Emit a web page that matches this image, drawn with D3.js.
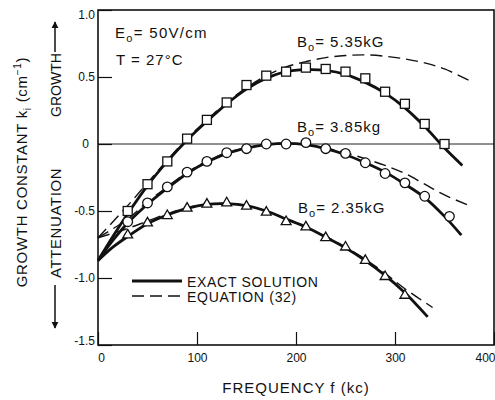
<!DOCTYPE html>
<html lang="en">
    <head>
        <meta charset="utf-8">
        <title>Growth constant vs frequency</title>
        <script type="text/javascript" src="https://cdn.jsdelivr.net/npm/d3@7"></script>
        <style type="text/css">
            body {
                margin: 0;
                background: white;
            }
            text {
                font-family: "Liberation Sans", Arial, Helvetica, sans-serif;
                fill: #111;
            }
            .axis path {
                display: none;
            }
            .axis line {
                stroke: #111;
                stroke-width: 1.2;
            }
            .axis text {
                font-size: 12px;
            }
        </style>
    </head>
    <body>
        <script type="text/javascript">
            //Tick values
            var xTicks = [0, 100, 200, 300, 400];
            var yTicks = [1.0, 0.5, 0, -0.5, -1.0, -1.5];
            var yTickLabels = ["1.0", "0.5", "0", "-0.5", "-1.0", "-1.5"];

            //Measured points (open markers)
            var fSquares = [30, 50, 70, 90, 110, 130, 150, 170, 190, 210, 230, 250, 270, 290, 310, 330, 350];
            var kSquares = [-0.50, -0.30, -0.13, 0.04, 0.18, 0.31, 0.44, 0.51, 0.54, 0.57, 0.56, 0.54, 0.49, 0.39, 0.30, 0.15, 0.0];

            var fCircles = [30, 50, 70, 90, 110, 130, 150, 170, 190, 210, 230, 250, 270, 290, 310, 330, 355];
            var kCircles = [-0.58, -0.44, -0.32, -0.21, -0.13, -0.065, -0.035, 0.0, 0.0, 0.01, -0.035, -0.07, -0.14, -0.22, -0.29, -0.39, -0.54];

            var fTriangles = [30, 50, 70, 90, 110, 130, 150, 170, 190, 210, 230, 250, 270, 290, 310];
            var kTriangles = [-0.68, -0.59, -0.535, -0.48, -0.45, -0.44, -0.465, -0.51, -0.58, -0.62, -0.70, -0.77, -0.87, -0.99, -1.13];

            //Exact solution (solid curves)
            var fExact535 = [0, 15, 30, 50, 70, 90, 110, 130, 150, 170, 190, 210, 230, 250, 270, 290, 310, 330, 350, 368];
            var kExact535 = [-0.87, -0.69, -0.52, -0.31, -0.13, 0.03, 0.17, 0.30, 0.41, 0.49, 0.54, 0.555, 0.55, 0.52, 0.46, 0.38, 0.27, 0.13, -0.03, -0.16];

            var fExact385 = [0, 15, 30, 50, 70, 90, 110, 130, 150, 170, 190, 210, 230, 250, 270, 290, 310, 330, 350, 367];
            var kExact385 = [-0.87, -0.72, -0.59, -0.45, -0.33, -0.22, -0.135, -0.07, -0.03, -0.005, 0.005, -0.005, -0.035, -0.08, -0.14, -0.21, -0.30, -0.40, -0.54, -0.68];

            var fExact235 = [0, 15, 30, 50, 70, 90, 110, 130, 150, 170, 190, 210, 230, 250, 270, 290, 310, 333];
            var kExact235 = [-0.87, -0.77, -0.69, -0.595, -0.53, -0.48, -0.45, -0.445, -0.46, -0.50, -0.56, -0.62, -0.695, -0.775, -0.87, -0.98, -1.11, -1.29];

            //Equation (32) (dashed curves)
            var fEq535 = [0, 30, 50, 70, 90, 110, 130, 150, 170, 190, 210, 230, 250, 270, 290, 310, 330, 350, 376];
            var kEq535 = [-0.70, -0.46, -0.29, -0.12, 0.04, 0.18, 0.31, 0.42, 0.51, 0.575, 0.615, 0.645, 0.66, 0.665, 0.655, 0.635, 0.605, 0.56, 0.47];

            var fEq385 = [0, 30, 50, 70, 90, 110, 130, 150, 170, 190, 210, 230, 250, 270, 290, 310, 330, 350, 375];
            var kEq385 = [-0.70, -0.56, -0.43, -0.32, -0.21, -0.13, -0.065, -0.03, -0.005, 0.005, -0.005, -0.03, -0.065, -0.11, -0.16, -0.22, -0.30, -0.38, -0.46];

            var fEq235 = [0, 30, 50, 70, 90, 110, 130, 150, 170, 190, 210, 230, 250, 270, 290, 310, 338];
            var kEq235 = [-0.70, -0.63, -0.575, -0.52, -0.475, -0.45, -0.445, -0.46, -0.50, -0.56, -0.62, -0.69, -0.77, -0.86, -0.965, -1.08, -1.22];

            //Width and height
            var w = 495;
            var h = 400;
            var plotL = 98, plotR = 494, plotT = 10, plotB = 345;

            function zip(fs, ks) {
                return fs.map(function(f, i) { return [f, ks[i]]; });
            }

            //Scales
            var xScale = d3.scaleLinear().domain([0, 400]).range([plotL, plotR]);
            var yScale = d3.scaleLinear().domain([-1.5, 1.0]).range([plotB, plotT]);

            var svg = d3.select("body")
                        .append("svg")
                        .attr("width", w)
                        .attr("height", h);

            //Arrow heads
            var defs = svg.append("defs");
            defs.append("marker")
                .attr("id", "arrow")
                .attr("viewBox", "0 0 10 10")
                .attr("refX", 9)
                .attr("refY", 5)
                .attr("markerWidth", 7)
                .attr("markerHeight", 9)
                .attr("markerUnits", "userSpaceOnUse")
                .attr("orient", "auto")
                .append("path")
                .attr("d", "M0,0 L10,5 L0,10 Z")
                .attr("fill", "#111");

            //Zero line
            svg.append("line")
               .attr("x1", plotL).attr("x2", plotR)
               .attr("y1", yScale(0)).attr("y2", yScale(0))
               .attr("stroke", "#222")
               .attr("stroke-width", 1);

            //Axes with inward ticks
            var xAxis = d3.axisBottom(xScale)
                          .tickValues(xTicks)
                          .tickSize(-13)
                          .tickPadding(8)
                          .tickFormat(d3.format("d"));
            var gx = svg.append("g")
               .attr("class", "axis")
               .attr("transform", "translate(0," + plotB + ")")
               .call(xAxis);
            gx.selectAll("text")
              .filter(function(d) { return d === 400; })
              .attr("text-anchor", "end")
              .attr("x", plotR - xScale(400) + 1);
            gx.selectAll("text")
              .filter(function(d) { return d === 0; })
              .attr("x", 3);

            var yAxis = d3.axisLeft(yScale)
                          .tickValues(yTicks)
                          .tickSize(-14)
                          .tickPadding(3)
                          .tickFormat(function(d, i) { return yTickLabels[i]; });
            var gy = svg.append("g")
               .attr("class", "axis")
               .attr("transform", "translate(" + plotL + ",0)")
               .call(yAxis);
            gy.selectAll("text")
              .filter(function(d) { return d === 1.0; })
              .attr("dy", "0.7em");
            gy.selectAll("text")
              .filter(function(d) { return d === -1.5; })
              .attr("dy", "-0.05em");
            gy.selectAll("text")
              .filter(function(d) { return d === 0; })
              .attr("x", -9);

            //Frame
            svg.append("rect")
               .attr("x", plotL).attr("y", plotT)
               .attr("width", plotR - plotL).attr("height", plotB - plotT)
               .attr("fill", "none")
               .attr("stroke", "#111")
               .attr("stroke-width", 1.6);

            //Curves
            var line = d3.line()
                         .x(function(d) { return xScale(d[0]); })
                         .y(function(d) { return yScale(d[1]); })
                         .curve(d3.curveCatmullRom);

            var dashed = [zip(fEq535, kEq535), zip(fEq385, kEq385), zip(fEq235, kEq235)];
            var solid = [zip(fExact535, kExact535), zip(fExact385, kExact385), zip(fExact235, kExact235)];

            svg.selectAll("path.eq")
               .data(dashed)
               .enter()
               .append("path")
               .attr("class", "eq")
               .attr("d", line)
               .attr("fill", "none")
               .attr("stroke", "#111")
               .attr("stroke-width", 1.4)
               .attr("stroke-dasharray", "12,6");

            svg.selectAll("path.exact")
               .data(solid)
               .enter()
               .append("path")
               .attr("class", "exact")
               .attr("d", line)
               .attr("fill", "none")
               .attr("stroke", "#111")
               .attr("stroke-width", 2.8);

            //Markers
            svg.selectAll("rect.sq")
               .data(zip(fSquares, kSquares))
               .enter()
               .append("rect")
               .attr("class", "sq")
               .attr("x", function(d) { return xScale(d[0]) - 4.5; })
               .attr("y", function(d) { return yScale(d[1]) - 4.5; })
               .attr("width", 9).attr("height", 9)
               .attr("fill", "white")
               .attr("stroke", "#111")
               .attr("stroke-width", 1.3);

            svg.selectAll("circle.ci")
               .data(zip(fCircles, kCircles))
               .enter()
               .append("circle")
               .attr("class", "ci")
               .attr("cx", function(d) { return xScale(d[0]); })
               .attr("cy", function(d) { return yScale(d[1]); })
               .attr("r", 4.8)
               .attr("fill", "white")
               .attr("stroke", "#111")
               .attr("stroke-width", 1.3);

            var tri = d3.symbol().type(d3.symbolTriangle).size(42);
            svg.selectAll("path.tr")
               .data(zip(fTriangles, kTriangles))
               .enter()
               .append("path")
               .attr("class", "tr")
               .attr("d", tri)
               .attr("transform", function(d) {
                    return "translate(" + xScale(d[0]) + "," + yScale(d[1]) + ")";
               })
               .attr("fill", "white")
               .attr("stroke", "#111")
               .attr("stroke-width", 1.3);

            //Annotations with subscripts
            function subLabel(x, y, main, sub, rest) {
                var t = svg.append("text")
                           .attr("x", x).attr("y", y)
                           .attr("font-size", "15px")
                           .attr("letter-spacing", "1px");
                t.append("tspan").text(main);
                t.append("tspan").attr("dy", 4).attr("font-size", "11px").text(sub);
                t.append("tspan").attr("dy", -4).text(rest);
                return t;
            }
            subLabel(115, 38, "E", "o", "= 50V/cm").attr("letter-spacing", "1.3px");
            svg.append("text")
               .attr("x", 116).attr("y", 65)
               .attr("font-size", "15px")
               .attr("letter-spacing", "1px")
               .text("T = 27\u00B0C");
            subLabel(297, 47, "B", "o", "= 5.35kG");
            subLabel(297, 132, "B", "o", "= 3.85kg");
            subLabel(298, 213, "B", "o", "= 2.35kG");

            //Legend
            svg.append("line")
               .attr("x1", 132).attr("x2", 182)
               .attr("y1", 281).attr("y2", 281)
               .attr("stroke", "#111").attr("stroke-width", 2.8);
            svg.append("line")
               .attr("x1", 132).attr("x2", 182)
               .attr("y1", 296).attr("y2", 296)
               .attr("stroke", "#111").attr("stroke-width", 1.4)
               .attr("stroke-dasharray", "12,6");
            svg.append("text")
               .attr("x", 187).attr("y", 287)
               .attr("font-size", "14px")
               .attr("letter-spacing", "0.7px")
               .text("EXACT SOLUTION");
            svg.append("text")
               .attr("x", 187).attr("y", 302)
               .attr("font-size", "14px")
               .attr("letter-spacing", "0.7px")
               .text("EQUATION (32)");

            //X axis title
            svg.append("text")
               .attr("x", 296).attr("y", 393)
               .attr("text-anchor", "middle")
               .attr("font-size", "15px")
               .attr("letter-spacing", "1px")
               .text("FREQUENCY f (kc)");

            //Y axis title
            var yt = svg.append("text")
               .attr("transform", "translate(27,172) rotate(-90)")
               .attr("text-anchor", "middle")
               .attr("font-size", "15px")
               .attr("letter-spacing", "0.7px");
            yt.append("tspan").text("GROWTH  CONSTANT  k");
            yt.append("tspan").attr("dy", 4).attr("font-size", "10px").text("i");
            yt.append("tspan").attr("dy", -4).text(" (cm");
            yt.append("tspan").attr("dy", -6).attr("font-size", "10px").text("\u22121");
            yt.append("tspan").attr("dy", 6).text(")");

            //Growth / attenuation direction labels
            svg.append("text")
               .attr("transform", "translate(61,85) rotate(-90)")
               .attr("text-anchor", "middle")
               .attr("font-size", "14px")
               .text("GROWTH");
            svg.append("text")
               .attr("transform", "translate(61,223) rotate(-90)")
               .attr("text-anchor", "middle")
               .attr("font-size", "15px")
               .attr("letter-spacing", "0.6px")
               .text("ATTENUATION");
            svg.append("line")
               .attr("x1", 55).attr("x2", 55)
               .attr("y1", 52).attr("y2", 22)
               .attr("stroke", "#111").attr("stroke-width", 1.5)
               .attr("marker-end", "url(#arrow)");
            svg.append("line")
               .attr("x1", 55).attr("x2", 55)
               .attr("y1", 285).attr("y2", 328)
               .attr("stroke", "#111").attr("stroke-width", 1.5)
               .attr("marker-end", "url(#arrow)");
        </script>
    </body>
</html>
